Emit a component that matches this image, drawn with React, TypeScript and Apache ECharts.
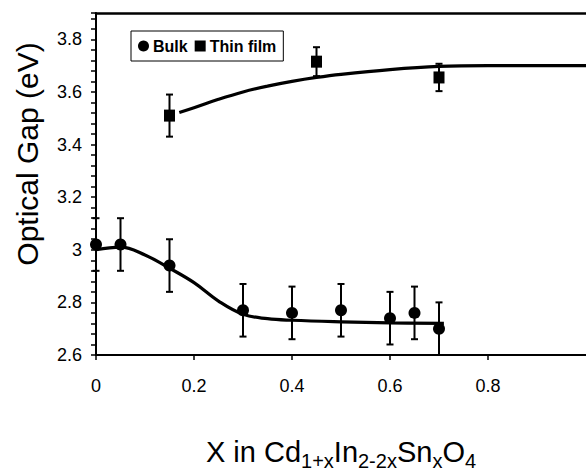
import React, { useEffect, useRef } from "react";
import * as echarts from "echarts";

// Measured points
const bulkX = [0, 0.05, 0.15, 0.3, 0.4, 0.5, 0.6, 0.65, 0.7];
const bulkY = [3.02, 3.02, 2.94, 2.77, 2.76, 2.77, 2.74, 2.76, 2.70];
const bulkErr = [0.1, 0.1, 0.1, 0.1, 0.1, 0.1, 0.1, 0.1, 0.1];

const filmX = [0.15, 0.45, 0.7];
const filmY = [3.51, 3.715, 3.655];
const filmErr = [0.08, 0.055, 0.052];

// Fitted curves
const bulkFitX = [0, 0.05, 0.1, 0.15, 0.2, 0.25, 0.3, 0.35, 0.4, 0.5, 0.6, 0.71];
const bulkFitY = [3.0, 3.01, 2.98, 2.93, 2.875, 2.805, 2.755, 2.738, 2.732, 2.726, 2.722, 2.72];

const filmFitX = [0.17, 0.2, 0.25, 0.3, 0.35, 0.4, 0.45, 0.5, 0.6, 0.7, 0.8, 0.9, 1.0];
const filmFitY = [3.522, 3.54, 3.572, 3.6, 3.622, 3.64, 3.655, 3.667, 3.685, 3.697, 3.70, 3.70, 3.70];

const xTicks = [0, 0.2, 0.4, 0.6, 0.8];
const yTicks = [2.6, 2.8, 3.0, 3.2, 3.4, 3.6, 3.8];

const FONT = "'Liberation Sans', Arial, sans-serif";

function zip(xs: number[], ys: number[]) {
  return xs.map((x, i) => [x, ys[i]]);
}

function errData(xs: number[], ys: number[], es: number[]) {
  return xs.map((x, i) => [x, ys[i] - es[i], ys[i] + es[i]]);
}

const errRender = (params: any, api: any) => {
  const x = api.value(0);
  const lo = api.coord([x, api.value(1)]);
  const hi = api.coord([x, api.value(2)]);
  const hw = 3.5;
  const style = { stroke: "#000", lineWidth: 2 };
  return {
    type: "group",
    children: [
      { type: "line", shape: { x1: lo[0], y1: lo[1], x2: hi[0], y2: hi[1] }, style },
      { type: "line", shape: { x1: lo[0] - hw, y1: lo[1], x2: lo[0] + hw, y2: lo[1] }, style },
      { type: "line", shape: { x1: hi[0] - hw, y1: hi[1], x2: hi[0] + hw, y2: hi[1] }, style },
    ],
  };
};

export default function App() {
  const ref = useRef<HTMLDivElement>(null);
  useEffect(() => {
    document.body.style.margin = "0";
    if (!ref.current) return;
    const chart = echarts.init(ref.current, undefined, { renderer: "svg" });
    chart.setOption({
      animation: false,
      backgroundColor: "#fff",
      textStyle: { fontFamily: FONT },
      grid: {
        left: 96,
        top: 13,
        width: 492,
        bottom: 112,
        show: false,
      },
      legend: {
        left: 131,
        top: 31,
        borderColor: "#000",
        borderWidth: 1,
        padding: [7, 7, 7, 7],
        itemGap: 7,
        itemWidth: 11,
        itemHeight: 11,
        selectedMode: false,
        textStyle: { fontFamily: FONT, fontSize: 16, fontWeight: "bold", color: "#000", padding: [0, 0, 0, -1] },
        data: [
          { name: "Bulk", icon: "circle" },
          { name: "Thin film", icon: "rect" },
        ],
      },
      xAxis: [
        {
          type: "value",
          min: 0,
          max: 1,
          interval: 0.2,
          name: "X in {n|Cd}{s|1+x}{n|In}{s|2-2x}{n|Sn}{s|x}{n|O}{s|4}",
          nameLocation: "middle",
          nameGap: 78,
          nameTextStyle: {
            rich: {
              n: { fontFamily: FONT, fontSize: 29, color: "#000" },
              s: { fontFamily: FONT, fontSize: 20, color: "#000", verticalAlign: "bottom", padding: [18, 0, 0, 0] },
            },
            fontFamily: FONT,
            fontSize: 29,
            color: "#000",
          },
          axisLine: { lineStyle: { color: "#000", width: 2 } },
          axisTick: { show: true, length: 5, lineStyle: { color: "#000", width: 1.5 } },
          axisLabel: {
            margin: 22,
            fontSize: 18,
            color: "#000",
            fontFamily: FONT,
            showMaxLabel: false,
            formatter: (v: number) => {
              const r = Math.round(v * 10) / 10;
              return xTicks.indexOf(r) >= 0 ? String(r) : "";
            },
          },
          splitLine: { show: false },
        },
        {
          type: "value",
          position: "top",
          min: 0,
          max: 1,
          interval: 0.2,
          axisLine: { show: true, onZero: false, lineStyle: { color: "#000", width: 2.5 } },
          axisTick: { show: false },
          axisLabel: { show: false },
          splitLine: { show: false },
        },
      ],
      yAxis: {
        type: "value",
        min: 2.6,
        max: 3.9,
        interval: 0.2,
        name: "Optical Gap (eV)",
        nameLocation: "middle",
        nameGap: 54,
        nameTextStyle: { fontFamily: FONT, fontSize: 30, color: "#000", padding: [0, 0, 0, 60] },
        axisLine: { show: true, lineStyle: { color: "#000", width: 2 } },
        axisTick: { show: true, length: 5, lineStyle: { color: "#000", width: 1.5 } },
        minorTick: { show: true, splitNumber: 5, length: 5, lineStyle: { color: "#000", width: 1.5 } },
        axisLabel: {
          margin: 14,
          fontSize: 18,
          color: "#000",
          fontFamily: FONT,
          formatter: (v: number) => {
            const r = Math.round(v * 10) / 10;
            return yTicks.indexOf(r) >= 0 ? String(r) : "";
          },
        },
        splitLine: { show: false },
      },
      series: [
        {
          name: "bulkFit",
          type: "line",
          data: zip(bulkFitX, bulkFitY),
          smooth: 0.4,
          showSymbol: false,
          lineStyle: { color: "#000", width: 3.2 },
          silent: true,
        },
        {
          name: "filmFit",
          type: "line",
          data: zip(filmFitX, filmFitY),
          smooth: 0.4,
          showSymbol: false,
          lineStyle: { color: "#000", width: 3.2 },
          silent: true,
        },
        {
          name: "bulkErr",
          type: "custom",
          renderItem: errRender,
          data: errData(bulkX, bulkY, bulkErr),
          encode: { x: 0, y: [1, 2] },
          z: 3,
        },
        {
          name: "filmErr",
          type: "custom",
          renderItem: errRender,
          data: errData(filmX, filmY, filmErr),
          encode: { x: 0, y: [1, 2] },
          z: 3,
        },
        {
          name: "Bulk",
          type: "scatter",
          data: zip(bulkX, bulkY),
          symbol: "circle",
          symbolSize: 12,
          itemStyle: { color: "#000", opacity: 1 },
          z: 4,
        },
        {
          name: "Thin film",
          type: "scatter",
          data: zip(filmX, filmY),
          symbol: "rect",
          symbolSize: [11, 12],
          itemStyle: { color: "#000", opacity: 1 },
          z: 4,
        },
      ],
    });
    return () => chart.dispose();
  }, []);
  return <div ref={ref} style={{ width: 586, height: 476 }} />;
}
